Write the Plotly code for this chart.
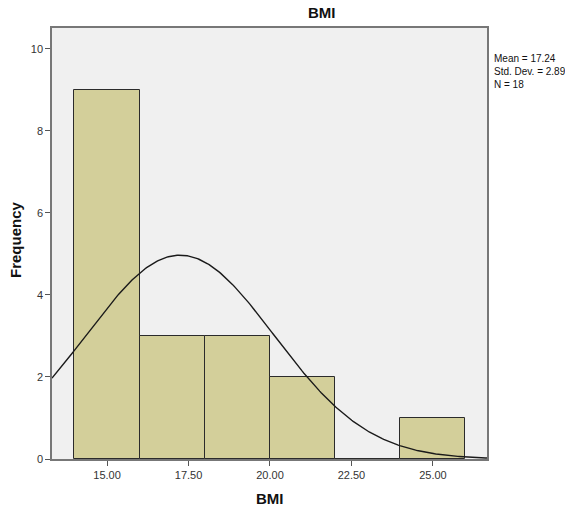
import numpy as np
import plotly.graph_objects as go

bin_centers = [15, 17, 19, 21, 23, 25]
counts = [9, 3, 3, 2, 0, 1]
bin_width = 2
mean_val = 17.24
sd_val = 2.89
n_val = 18
x_ticks = [15.0, 17.5, 20.0, 22.5, 25.0]
x_tick_labels = ["15.00", "17.50", "20.00", "22.50", "25.00"]
y_ticks = [0, 2, 4, 6, 8, 10]

x_range = [13.31, 26.66]
y_range = [0, 10.51]

xs = np.linspace(x_range[0], x_range[1], 300)
ys = n_val * bin_width / (sd_val * np.sqrt(2 * np.pi)) * np.exp(-0.5 * ((xs - mean_val) / sd_val) ** 2)

W, H = 565, 510
ML, MR, MT, MB = 52, 78, 28, 51
PW = W - ML - MR
PH = H - MT - MB

fig = go.Figure()
fig.add_trace(go.Bar(
    x=bin_centers, y=counts, width=[bin_width] * len(bin_centers),
    marker=dict(color="#d3cf9a", line=dict(color="#2b2b2b", width=1)),
    hoverinfo="x+y"
))
fig.add_trace(go.Scatter(
    x=xs, y=ys, mode="lines", line=dict(color="#1a1a1a", width=1.4), hoverinfo="skip"
))

axis_common = dict(
    ticks="outside", ticklen=5, tickcolor="#555555",
    showline=True, linecolor="#777777", linewidth=1.5, mirror=True,
    showgrid=False, zeroline=False, automargin=False,
    tickfont=dict(size=11, color="#333333"),
)

fig.update_layout(
    width=W, height=H,
    margin=dict(l=ML, r=MR, t=MT, b=MB, autoexpand=False),
    paper_bgcolor="white",
    plot_bgcolor="#f0f0f0",
    showlegend=False,
    bargap=0,
    font=dict(family="Liberation Sans, Arial, sans-serif", color="#222222", size=11),
    xaxis=dict(range=x_range, tickvals=x_ticks, ticktext=x_tick_labels, **axis_common),
    yaxis=dict(range=y_range, tickvals=y_ticks, **axis_common),
    annotations=[
        dict(text="<b>BMI</b>", x=(322 - ML) / PW, xref="paper", y=1.0, yref="paper",
             xanchor="center", yanchor="bottom", yshift=5,
             showarrow=False, font=dict(size=15, color="#111111")),
        dict(text="<b>BMI</b>", x=(270 - ML) / PW, xref="paper", y=0, yref="paper",
             xanchor="center", yanchor="middle", yshift=-(498 - (H - MB)),
             showarrow=False, font=dict(size=15, color="#111111")),
        dict(text="<b>Frequency</b>", x=0, xref="paper", y=(H - MB - 240) / PH, yref="paper",
             xanchor="center", yanchor="middle", xshift=-(ML - 15), textangle=-90,
             showarrow=False, font=dict(size=15, color="#111111")),
        dict(text="Mean = 17.24<br>Std. Dev. = 2.89<br>N = 18",
             xref="paper", yref="paper", x=1, xshift=5, y=(H - MB - 51) / PH,
             xanchor="left", yanchor="top",
             align="left", showarrow=False, font=dict(size=10, color="#111111")),
    ],
)

fig.write_html(
    "out.html",
    config={"displayModeBar": False},
    post_script="document.body.style.margin='0';document.body.style.overflow='hidden';",
)
